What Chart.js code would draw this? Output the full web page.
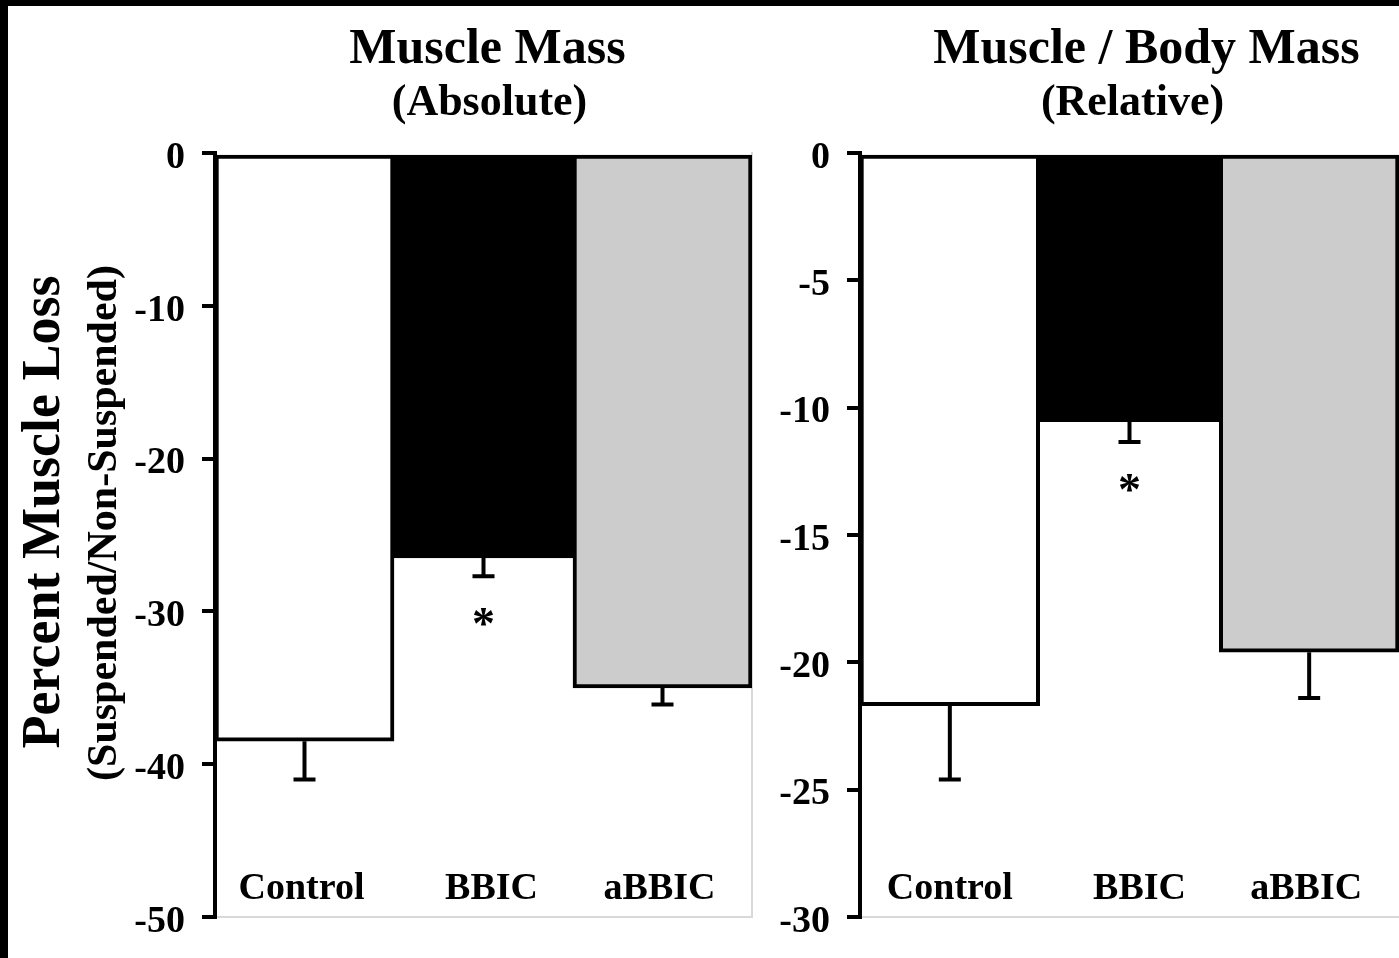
<!DOCTYPE html>
<html>
<head>
<meta charset="utf-8">
<script src="https://cdn.jsdelivr.net/npm/chart.js@4.4.0/dist/chart.umd.min.js"></script>
<style>
  html, body { margin: 0; padding: 0; background: #000; overflow: hidden; width: 1399px; height: 958px; }
  #sheet { position: absolute; left: 8px; top: 6px; right: 0; bottom: 0; background: #fff; }
  canvas { position: absolute; }
  #absChart { left: 8px; top: 6px; }
  #relChart { left: 760px; top: 6px; }
</style>
</head>
<body>
<div id="sheet"></div>
<canvas id="absChart" width="792" height="952"></canvas>
<canvas id="relChart" width="640" height="952"></canvas>
<script>
var categories = ['Control', 'BBIC', 'aBBIC'];
var absValues = [-38.5, -26.5, -35.0];
var absErrors = [2.5, 1.2, 1.1];
var relValues = [-21.7, -10.55, -19.6];
var relErrors = [2.9, 0.8, 1.8];
var absTicks = [0, -10, -20, -30, -40, -50];
var relTicks = [0, -5, -10, -15, -20, -25, -30];
var significant = [false, true, false];
var barColors = ['#ffffff', '#000000', '#cccccc'];

var serif = '"Liberation Serif", "Times New Roman", serif';

// error bars, stars, in-plot category names, titles
var extrasPlugin = {
  id: 'extras',
  afterDatasetsDraw: function(chart, args, opts) {
    var ctx = chart.ctx;
    var yScale = chart.scales.y;
    var area = chart.chartArea;
    var meta = chart.getDatasetMeta(0);
    ctx.save();
    ctx.strokeStyle = '#000';
    ctx.fillStyle = '#000';
    ctx.lineWidth = 4;
    meta.data.forEach(function(bar, i) {
      var yEnd = yScale.getPixelForValue(opts.values[i] - opts.errors[i]);
      ctx.beginPath();
      ctx.moveTo(bar.x, bar.y);
      ctx.lineTo(bar.x, yEnd);
      ctx.moveTo(bar.x - 11, yEnd);
      ctx.lineTo(bar.x + 11, yEnd);
      ctx.stroke();
      if (opts.stars[i]) {
        ctx.font = 'bold 46px ' + serif;
        ctx.textAlign = 'center';
        ctx.textBaseline = 'alphabetic';
        ctx.fillText('*', bar.x, yEnd + 63);
      }
      ctx.font = 'bold 38px ' + serif;
      ctx.textAlign = 'center';
      ctx.textBaseline = 'alphabetic';
      ctx.fillText(categories[i], bar.x + opts.labelDx[i], area.bottom - 18);
    });
    ctx.restore();
  },
  afterDraw: function(chart, args, opts) {
    var ctx = chart.ctx;
    var area = chart.chartArea;
    var cx = (area.left + area.right) / 2;
    ctx.save();
    ctx.fillStyle = '#000';
    ctx.textAlign = 'center';
    ctx.textBaseline = 'alphabetic';
    ctx.font = 'bold 50px ' + serif;
    ctx.fillText(opts.title, cx + opts.titleDx, 57);
    ctx.font = 'bold 44px ' + serif;
    ctx.fillText(opts.subtitle, cx + opts.subtitleDx, 109);
    if (opts.yTitle) {
      ctx.save();
      ctx.translate(37, 506);
      ctx.rotate(-Math.PI / 2);
      ctx.textBaseline = 'middle';
      ctx.font = 'bold 54px ' + serif;
      ctx.fillText(opts.yTitle[0], 0, 0);
      ctx.restore();
      ctx.save();
      ctx.translate(97, 517);
      ctx.rotate(-Math.PI / 2);
      ctx.textBaseline = 'middle';
      ctx.font = 'bold 42px ' + serif;
      ctx.fillText(opts.yTitle[1], 0, 0);
      ctx.restore();
    }
    ctx.restore();
  }
};

function makeChart(id, values, errors, ticks, setup) {
  var scales = {
    x: {
      grid: { display: false },
      ticks: { display: false },
      border: { display: true, color: '#d9d9d9', width: 2 },
      afterFit: function(s) { s.height = 0; }
    },
    y: {
      min: Math.min.apply(null, ticks),
      max: Math.max.apply(null, ticks),
      ticks: {
        stepSize: ticks[0] - ticks[1],
        color: '#000',
        padding: 17,
        labelOffset: 5,
        font: { family: serif, size: 38, weight: 'bold' }
      },
      grid: { drawOnChartArea: false, drawTicks: true, tickLength: 13, color: '#000', lineWidth: 4 },
      border: { display: true, color: '#000', width: 4 },
      afterFit: function(s) { s.width = setup.axisWidth; }
    }
  };
  if (setup.rightEdge) {
    scales.y2 = {
      position: 'right',
      ticks: { display: false },
      grid: { display: false },
      border: { display: true, color: '#d9d9d9', width: 2 },
      afterFit: function(s) { s.width = 0; }
    };
  }
  return new Chart(document.getElementById(id), {
    type: 'bar',
    data: {
      labels: categories,
      datasets: [{
        data: values,
        backgroundColor: barColors,
        borderColor: '#000',
        borderWidth: 4,
        borderSkipped: false,
        categoryPercentage: 1,
        barPercentage: 1
      }]
    },
    options: {
      responsive: false,
      animation: false,
      events: [],
      layout: { padding: setup.padding },
      plugins: {
        legend: { display: false },
        tooltip: { enabled: false },
        extras: {
          values: values,
          errors: errors,
          stars: significant,
          labelDx: setup.labelDx,
          title: setup.title,
          subtitle: setup.subtitle,
          titleDx: setup.titleDx,
          subtitleDx: setup.subtitleDx,
          yTitle: setup.yTitle
        }
      },
      scales: scales
    },
    plugins: [extrasPlugin]
  });
}

makeChart('absChart', absValues, absErrors, absTicks, {
  axisWidth: 207,
  padding: { left: 0, top: 147, right: 48, bottom: 41 },
  rightEdge: true,
  labelDx: [-3, 8, -3],
  title: 'Muscle Mass',
  subtitle: '(Absolute)',
  titleDx: 4,
  subtitleDx: 6,
  yTitle: ['Percent Muscle Loss', '(Suspended/Non-Suspended)']
});

makeChart('relChart', relValues, relErrors, relTicks, {
  axisWidth: 100,
  padding: { left: 0, top: 147, right: 1, bottom: 41 },
  rightEdge: false,
  labelDx: [0, 10, -3],
  title: 'Muscle / Body Mass',
  subtitle: '(Relative)',
  titleDx: 17,
  subtitleDx: 3,
  yTitle: null
});
</script>
</body>
</html>
